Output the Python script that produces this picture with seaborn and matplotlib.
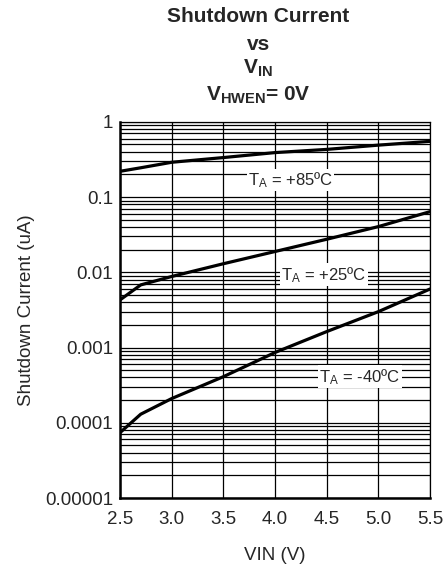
import numpy as np
import pandas as pd
import matplotlib
matplotlib.use("Agg")
import matplotlib.pyplot as plt
import seaborn as sns
from matplotlib.ticker import FixedLocator, FixedFormatter, LogLocator, NullFormatter

# Shutdown current vs input voltage at three ambient temperatures
vin = [2.5, 2.7, 3.0, 3.5, 4.0, 4.5, 5.0, 5.5]
i_85c = [0.22, 0.245, 0.29, 0.335, 0.39, 0.43, 0.49, 0.55]
i_25c = [0.0043, 0.0068, 0.0088, 0.013, 0.0189, 0.0275, 0.0405, 0.064]
i_m40c = [0.000074, 0.00013, 0.00021, 0.00041, 0.00086, 0.00163, 0.0030, 0.0060]

y_ticks = [1e-5, 1e-4, 1e-3, 1e-2, 1e-1, 1]
y_tick_labels = ["0.00001", "0.0001", "0.001", "0.01", "0.1", "1"]
x_ticks = [2.5, 3.0, 3.5, 4.0, 4.5, 5.0, 5.5]
x_tick_labels = ["2.5", "3.0", "3.5", "4.0", "4.5", "5.0", "5.5"]

curve_labels = ["T$_A$ = +85\u00baC", "T$_A$ = +25\u00baC", "T$_A$ = -40\u00baC"]
title_lines = ["Shutdown Current", "vs", "V$_{\\mathbf{IN}}$", "V$_{\\mathbf{HWEN}}$= 0V"]

df = pd.DataFrame({
    "VIN": vin * 3,
    "I": i_85c + i_25c + i_m40c,
    "T": ["85"] * len(vin) + ["25"] * len(vin) + ["-40"] * len(vin),
})

sns.set_style("white")
plt.rcParams["font.family"] = ["Liberation Sans", "DejaVu Sans"]
plt.rcParams["mathtext.fontset"] = "custom"
plt.rcParams["mathtext.rm"] = "Liberation Sans"
plt.rcParams["mathtext.it"] = "Liberation Sans"
plt.rcParams["mathtext.bf"] = "Liberation Sans:bold"

fig = plt.figure(figsize=(4.48, 5.64), dpi=100)
ax = fig.add_axes([0.268, 0.117, 0.692, 0.667])

sns.lineplot(data=df, x="VIN", y="I", units="T", estimator=None,
             color="black", linewidth=2.3, ax=ax, legend=False)

ax.set_yscale("log")
ax.set_xlim(2.5, 5.5)
ax.set_ylim(1e-5, 1)

ax.xaxis.set_major_locator(FixedLocator(x_ticks))
ax.xaxis.set_major_formatter(FixedFormatter(x_tick_labels))
ax.yaxis.set_major_locator(FixedLocator(y_ticks))
ax.yaxis.set_major_formatter(FixedFormatter(y_tick_labels))
ax.yaxis.set_minor_locator(LogLocator(base=10, subs=np.arange(2, 10), numticks=20))
ax.yaxis.set_minor_formatter(NullFormatter())

ax.grid(True, which="major", axis="both", color="black", linewidth=0.9)
ax.grid(True, which="minor", axis="y", color="black", linewidth=0.9)
ax.set_axisbelow(True)
ax.tick_params(axis="both", which="both", length=0, labelsize=13.5)
ax.tick_params(axis="x", pad=9)
ax.tick_params(axis="y", pad=5)

for side in ["left", "bottom"]:
    ax.spines[side].set_linewidth(1.8)
for side in ["top", "right"]:
    ax.spines[side].set_linewidth(0.9)
for s in ax.spines.values():
    s.set_color("black")

ax.set_xlabel("VIN (V)", fontsize=13.5, labelpad=14)
ax.set_ylabel("Shutdown Current (uA)", fontsize=13.5, labelpad=7)

# Four-line bold heading
title_y = [16, 44, 68, 95]
for line, ypx in zip(title_lines, title_y):
    fig.text(0.576, 1 - ypx / 564, line, fontsize=15, fontweight="bold",
             ha="center", va="center")

label_pos = [(4.15, 0.169), (4.47, 0.0093), (4.82, 0.00041)]
for txt, (x, y) in zip(curve_labels, label_pos):
    ax.text(x, y, txt, fontsize=12, ha="center", va="center",
            bbox=dict(facecolor="white", edgecolor="none", pad=1.0), zorder=5)

fig.savefig("out.png", dpi=100)
